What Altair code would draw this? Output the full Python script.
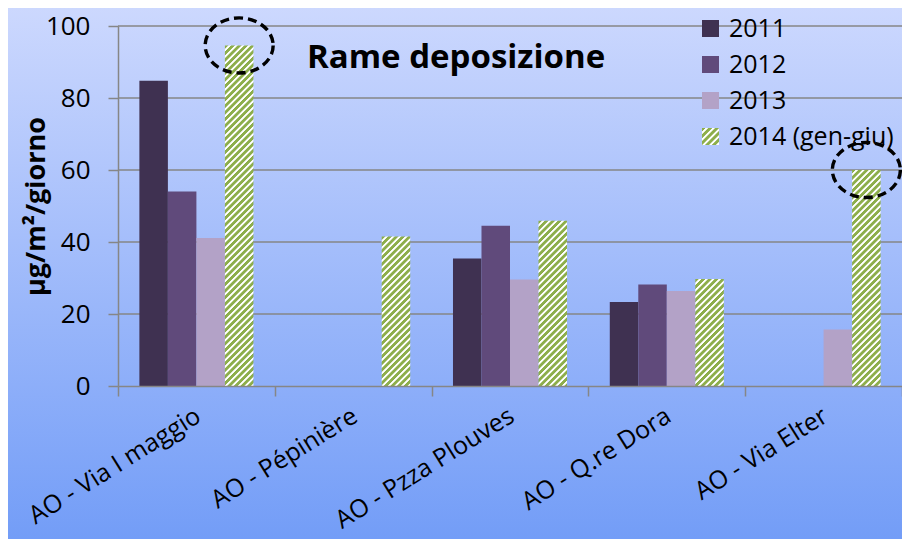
import altair as alt
import pandas as pd

# ---------------- data ----------------
stations = ["AO - Via I maggio", "AO - Pépinière", "AO - Pzza Plouves", "AO - Q.re Dora", "AO - Via Elter"]
years = ["2011", "2012", "2013", "2014 (gen-giu)"]
v2011 = [84.8, None, 35.4, 23.3, None]
v2012 = [54.0, None, 44.5, 28.2, None]
v2013 = [41.1, None, 29.6, 26.4, 15.7]
v2014 = [94.6, 41.5, 45.9, 29.7, 60.0]
highlight = ["AO - Via I maggio", "AO - Via Elter"]
y_ticks = [0, 20, 40, 60, 80, 100]

series = {"2011": v2011, "2012": v2012, "2013": v2013, "2014 (gen-giu)": v2014}
rows = []
for yr, vals in series.items():
    for st, v in zip(stations, vals):
        if v is not None:
            rows.append({"station": st, "year": yr, "value": v})
df = pd.DataFrame(rows)
df_solid = df[df["year"] != "2014 (gen-giu)"]
df_hatch = df[df["year"] == "2014 (gen-giu)"]
df_hl = df_hatch[df_hatch["station"].isin(highlight)]
df_grid = pd.DataFrame({"v": y_ticks[1:]})

# ---------------- layout / style ----------------
PLOT_W, PLOT_H = 784, 360
PAD_L, PAD_T, PAD_B = 110, 18, 153
Y_MAX = 100
OUTER = 0.75
BW = PLOT_W / len(stations) / (len(years) + 2 * OUTER)
K = PLOT_H / Y_MAX
FONT = "Open Sans"
GREEN = "#8DAE4B"
WHITE = "#FFFFFF"
colors = ["#3F3151", "#604A7B", "#B3A2C7"]

# hatch stripes (diagonal '/') built as a gradient with constant pixel period
P, N = 6.6, 60
stops = []
for i in range(N):
    stops += [(i / N, GREEN), ((i + 0.45) / N, GREEN), ((i + 0.6) / N, WHITE),
              ((i + 0.85) / N, WHITE)]
stops.append((1.0, GREEN))
stops_expr = "[" + ",".join("{offset:%.5f,color:'%s'}" % (o, c) for o, c in stops) + "]"
h_expr = "(datum.value*%.5f)" % K
den = "(%.5f+%s*%s)" % (BW * BW, h_expr, h_expr)
grad_expr = "{gradient:'linear',x1:0,y1:0,x2:%.5f/%s,y2:%.5f*%s/%s,stops:%s}" % (
    P * N * BW, den, P * N, h_expr, den, stops_expr)

# legend swatch gradient
lstops = []
NL = 5
for i in range(NL):
    lstops += [(i / NL, GREEN), ((i + 0.45) / NL, GREEN), ((i + 0.6) / NL, WHITE),
               ((i + 0.85) / NL, WHITE)]
lstops.append((1.0, GREEN))
legend_grad = "{gradient:'linear',x1:0,y1:0,x2:1,y2:1,stops:[" + ",".join(
    "{offset:%.4f,color:'%s'}" % (o, c) for o, c in lstops) + "]}"

x_enc = alt.X("station:N", sort=stations, title=None,
              scale=alt.Scale(paddingInner=0, paddingOuter=0),
              axis=alt.Axis(labelAngle=-32, labelAlign="right", labelBaseline="top",
                            labelFontSize=25, labelFont=FONT, labelColor="black",
                            labelPadding=7, labelOffset=-5, tickBand="extent",
                            tickSize=10, tickColor="#868686", tickWidth=1.5,
                            domainColor="#868686", domainWidth=1.5, grid=False,
                            zindex=1, labelLimit=400))
xo_enc = alt.XOffset("year:N", sort=years,
                     scale=alt.Scale(domain=years, paddingInner=0, paddingOuter=OUTER))
y_enc = alt.Y("value:Q", scale=alt.Scale(domain=[0, Y_MAX], nice=False),
              axis=alt.Axis(values=y_ticks, title="µg/m²/giorno", titleFont=FONT,
                            titleFontSize=27, titleFontWeight="bold", titleColor="black",
                            titleX=-74, titleY=PLOT_H / 2, titleAngle=-90,
                            titleBaseline="alphabetic", titleAlign="center",
                            labelFontSize=26, labelFont=FONT, labelColor="black",
                            labelPadding=18, tickSize=10, tickColor="#868686",
                            tickWidth=1.5, domainColor="#868686", domainWidth=1.5,
                            grid=False, zindex=1))

bg = alt.Chart(pd.DataFrame({"a": [0]})).mark_rect(
    color=alt.LinearGradient(gradient="linear", x1=0, x2=0, y1=0, y2=1,
                             stops=[alt.GradientStop(offset=0, color="#CCD8FE"),
                                    alt.GradientStop(offset=1, color="#739DF7")])
).encode(x=alt.value(-PAD_L), x2=alt.value(PLOT_W), y=alt.value(-PAD_T),
         y2=alt.value(PLOT_H + PAD_B))

grid = alt.Chart(df_grid).mark_rule(color="#868686", strokeWidth=1.5).encode(
    y=alt.Y("v:Q", scale=alt.Scale(domain=[0, Y_MAX], nice=False)))

bars = alt.Chart(df_solid).mark_bar().encode(
    x=x_enc, xOffset=xo_enc, y=y_enc,
    color=alt.Color("year:N", sort=years,
                    scale=alt.Scale(domain=years, range=colors + [{"expr": legend_grad}]),
                    legend=alt.Legend(title=None, orient="none", legendX=580, legendY=-10,
                                      symbolType="square", symbolSize=289,
                                      symbolStrokeWidth=0, labelFontSize=25,
                                      labelFont=FONT, labelColor="black", labelOffset=6,
                                      rowPadding=10, padding=0, labelLimit=400)))

hatch = alt.Chart(df_hatch).transform_calculate(grad=grad_expr).mark_bar().encode(
    x=alt.X("station:N", sort=stations), xOffset=alt.XOffset("year:N", sort=years),
    y=alt.Y("value:Q"),
    fill=alt.Fill("grad:N", scale=None))

ellipse_path = ("M 1 0 C 1 0.447 0.552 0.81 0 0.81 C -0.552 0.81 -1 0.447 -1 0 "
                "C -1 -0.447 -0.552 -0.81 0 -0.81 C 0.552 -0.81 1 -0.447 1 0 Z")
rings = alt.Chart(df_hl).mark_point(shape=ellipse_path, size=4624, filled=False,
                                    color="black", strokeWidth=3.4,
                                    strokeDash=[9, 5], opacity=1).encode(
    x=alt.X("station:N", sort=stations), xOffset=alt.XOffset("year:N", sort=years),
    y=alt.Y("value:Q"))

chart = alt.layer(bg, grid, bars, hatch, rings).properties(
    width=PLOT_W, height=PLOT_H,
    padding={"left": PAD_L, "top": PAD_T, "right": 0, "bottom": PAD_B},
    autosize=alt.AutoSizeParams(type="none"),
    title=alt.TitleParams("Rame deposizione", anchor="start", frame="group", orient="top",
                          offset=0, dx=189, dy=93, fontSize=33, font=FONT,
                          fontWeight="bold", color="black", baseline="alphabetic"),
).configure_view(stroke=None)

chart.save("out.html", embed_options={"renderer": "svg", "actions": False})
